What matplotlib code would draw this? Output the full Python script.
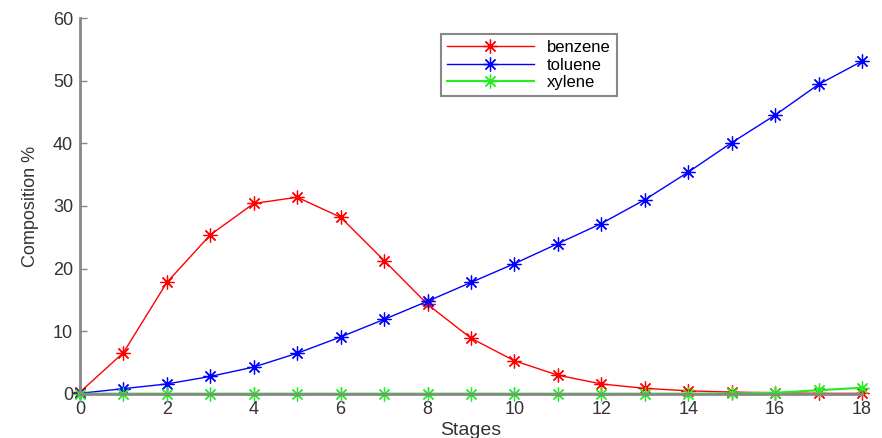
import numpy as np
import matplotlib.pyplot as plt

plt.rcParams['font.family'] = ['Liberation Sans', 'DejaVu Sans']

# Composition of each component along the column stages
stages = np.arange(0, 19)
benzene = [0.3, 6.6, 17.8, 25.4, 30.4, 31.4, 28.2, 21.3, 14.3, 8.9,
           5.3, 3.0, 1.6, 0.9, 0.5, 0.3, 0.2, 0.1, 0.1]
toluene = [0.1, 0.85, 1.6, 2.8, 4.3, 6.5, 9.1, 11.9, 14.8, 17.8,
           20.8, 24.0, 27.2, 31.0, 35.4, 40.1, 44.5, 49.4, 53.1]
xylene = [0.05, 0.05, 0.05, 0.05, 0.05, 0.05, 0.05, 0.05, 0.05, 0.05,
          0.05, 0.05, 0.05, 0.05, 0.05, 0.1, 0.2, 0.6, 1.0]

fig = plt.figure(figsize=(8.82, 4.38), dpi=100)
ax = fig.add_axes([0.0907, 0.1005, 0.8866, 0.8584])

# asterisk marker with 8 spokes
star = (8, 2, 0)
ax.plot(stages, benzene, color='#ff0000', marker=star, markersize=10, mew=0.9,
        lw=1, label='benzene', clip_on=False)
ax.plot(stages, toluene, color='#0000ff', marker=star, markersize=10, mew=0.9,
        lw=1, label='toluene', clip_on=False)
ax.plot(stages, xylene, color='#22ee22', marker=star, markersize=10, mew=0.9,
        lw=1.5, label='xylene', clip_on=False)

ax.set_xlim(0, 18)
ax.set_ylim(0, 60)
ax.set_xticks(range(0, 19, 2))
ax.set_yticks(range(0, 61, 10))

for s in ['top', 'right']:
    ax.spines[s].set_visible(False)
for s in ['left', 'bottom']:
    ax.spines[s].set_color('#888888')
    ax.spines[s].set_linewidth(2)
ax.tick_params(direction='in', length=5, width=1, colors='#888888',
               labelcolor='#333333', labelsize=13, pad=5)

ax.set_xlabel('Stages', fontsize=14, color='#333333', labelpad=3)
ax.set_ylabel('Composition %', fontsize=13, color='#333333', labelpad=10)

leg = ax.legend(loc='upper left', bbox_to_anchor=(0.462, 0.957), fontsize=12,
                handlelength=5.2, fancybox=False, framealpha=1,
                edgecolor='#888888', borderpad=0.35, labelspacing=0.15,
                borderaxespad=0)
leg.get_frame().set_linewidth(1.5)

fig.savefig('out.png', dpi=100)
